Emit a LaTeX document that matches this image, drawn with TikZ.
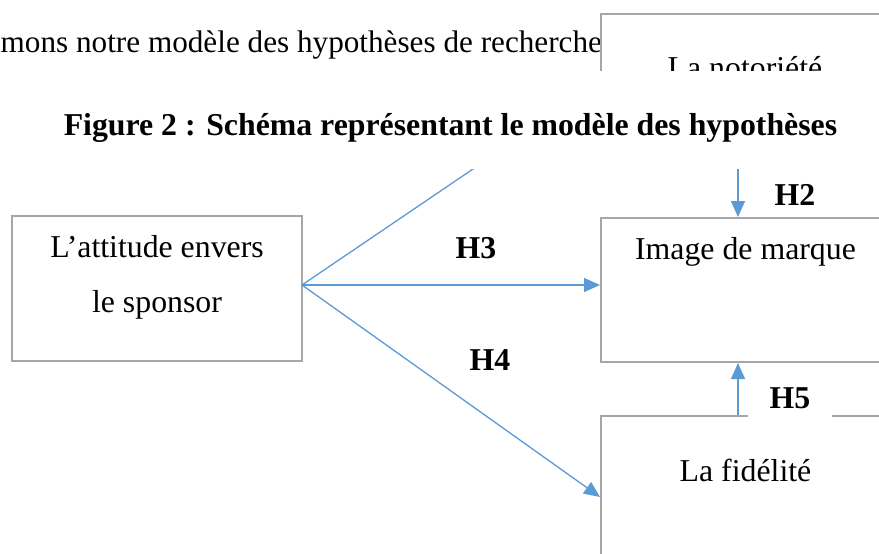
\documentclass[tikz,border=0pt]{standalone}
\usepackage{fontspec}
\setmainfont{Liberation Serif}
\usetikzlibrary{arrows.meta}
\definecolor{boxgray}{HTML}{A6A6A6}
\definecolor{arrblue}{HTML}{5B9BD5}
\begin{document}
\begin{tikzpicture}[x=1pt,y=-1pt,
  box/.style={draw=boxgray, line width=2pt, fill=white, inner sep=0pt},
  txt/.style={font=\fontsize{31.8}{38}\selectfont, anchor=base, inner sep=0pt},
  lab/.style={font=\fontsize{31.8}{38}\selectfont\bfseries, anchor=base, inner sep=0pt},
  conn/.style={draw=arrblue, line width=1.3pt},
  arr/.style={conn, -{Triangle[length=16pt,width=14pt]}}]
\useasboundingbox (0,0) rectangle (879,554);
\clip (0,0) rectangle (879,554);
\fill[white] (0,0) rectangle (879,554);

% running text
\node[txt, font=\fontsize{31.2}{38}\selectfont, anchor=base west] (para) at (0.5,52) {mons notre modèle des hypothèses de recherche};

% boxes
\node[box, minimum width=300pt, minimum height=140pt] (not) at (751,84) {};
\node[box, minimum width=290pt, minimum height=145pt] (att) at (157,288.5) {};
\node[box, minimum width=300pt, minimum height=144pt] (img) at (751,290) {};
\node[box, minimum width=300pt, minimum height=184pt] (fid) at (751,508) {};

% box texts
\node[txt] (notT) at (745,78) {La notoriété};
\node[txt] (attT1) at (157,257) {L’attitude envers};
\node[txt] (attT2) at (157,312) {le sponsor};
\node[txt] (imgT) at (745.5,259) {Image de marque};
\node[txt] (fidT) at (745.5,481) {La fidélité};

% connectors
\coordinate (src) at (302,285);
\coordinate (vx) at (738,0);
\coordinate (h1end) at (501,150);
\draw[conn] (src) -- (h1end);
\draw[arr] (vx |- not.south) -- (vx |- img.north);
\draw[arr] (src) -- (img.west |- src);
\draw[arr] (src) -- (fid.west |- 0,497);
\draw[arr] (vx |- fid.north) -- (vx |- img.south);

% white band under the caption
\fill[white] (0,71) rectangle (879,169);

% caption
\node[lab] (title) at (450.5,135) {Figure 2 : Schéma représentant le modèle des hypothèses};

% hypothesis labels
\node[lab] (h2) at (795,205) {H2};
\node[lab] (h3) at (476,258) {H3};
\node[lab] (h4) at (490,370) {H4};
\node[lab, fill=white, minimum width=84pt, text height=23pt, text depth=11pt] (h5) at (790,408) {H5};
\end{tikzpicture}
\end{document}
